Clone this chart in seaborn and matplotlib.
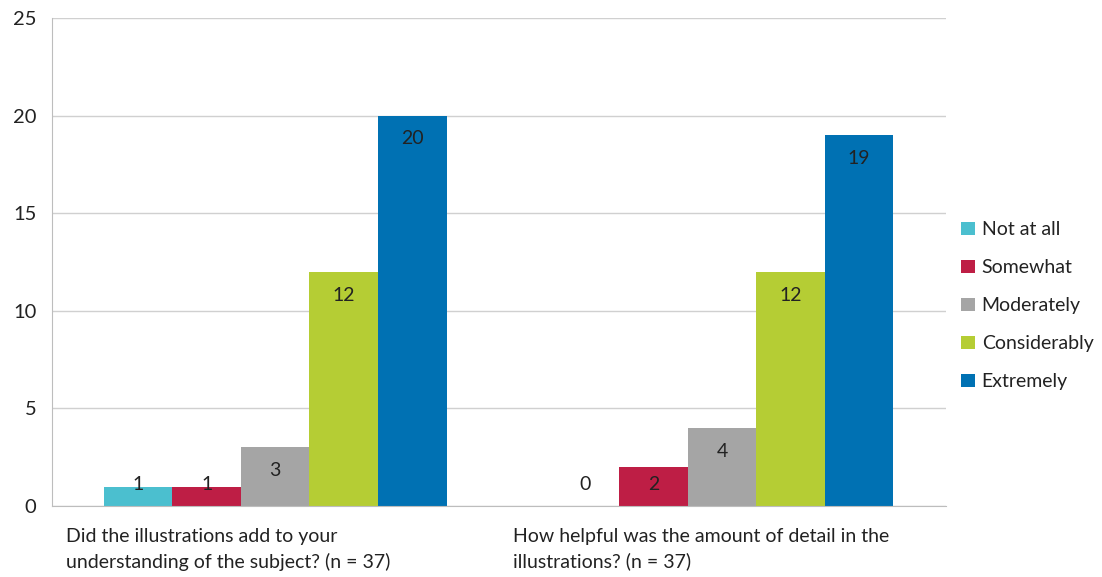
#!/usr/bin/env python3

import pandas as pd
import seaborn as sns
import matplotlib.pyplot as plt

questions = [
    "Did the illustrations add to your\nunderstanding of the subject? (n = 37)",
    "How helpful was the amount of detail in the\nillustrations? (n = 37)",
]
levels = ["Not at all", "Somewhat", "Moderately", "Considerably", "Extremely"]
counts_q1 = [1, 1, 3, 12, 20]
counts_q2 = [0, 2, 4, 12, 19]
colors = ["#4BBFCF", "#BE1E45", "#A5A5A5", "#B5CD34", "#0071B3"]

sns.set_style("white")
plt.rcParams["font.family"] = ["Lato", "DejaVu Sans"]

rows = []
for q, vals in zip(questions, [counts_q1, counts_q2]):
    for lvl, v in zip(levels, vals):
        rows.append({"question": q, "level": lvl, "count": v})
df = pd.DataFrame(rows)

fig = plt.figure(figsize=(11.02, 5.77), dpi=100)
ax = fig.add_axes([0.047, 0.123, 0.811, 0.846])

sns.barplot(
    df, x="question", y="count", hue="level", hue_order=levels,
    palette=colors, saturation=1, width=0.767, linewidth=0, ax=ax, legend=True,
)

ax.set_ylim(0, 25)
ax.set_xlim(-0.5, 1.5)
ax.set_yticks([0, 5, 10, 15, 20, 25])
ax.yaxis.grid(True, color="#D0D0D0", linewidth=1)
ax.set_axisbelow(True)
for side in ["top", "right"]:
    ax.spines[side].set_visible(False)
for side in ["left", "bottom"]:
    ax.spines[side].set_color("#BDBDBD")
ax.tick_params(axis="y", length=5, color="#BDBDBD", labelsize=14.5, pad=6, labelcolor="#222222")
ax.set_xticks([0, 1])
ax.set_xticklabels([])
ax.tick_params(axis="x", which="major", length=0)
ax.set_xticks([-0.5, 0.5, 1.5], minor=True)
ax.tick_params(axis="x", which="minor", length=6, color="#BDBDBD")
ax.set_xlabel("")
ax.set_ylabel("")

# category labels, left aligned under each group
for i, q in enumerate(questions):
    ax.text(i - 0.5 + 0.032, -1.1, q, ha="left", va="top", fontsize=14,
            linespacing=1.55, color="#222222")

# value labels inside bar tops
for container in ax.containers:
    for bar in container:
        h = bar.get_height()
        y = max(h - 1.2, 1.12)
        ax.text(bar.get_x() + bar.get_width() / 2, y, "{:d}".format(int(h)),
                ha="center", va="center", fontsize=14, color="#222222")

leg = ax.legend(
    loc="center left", bbox_to_anchor=(0.998, 0.41), frameon=False,
    fontsize=14, handlelength=0.7, handleheight=0.7, handletextpad=0.35,
    labelspacing=1.08,
)
for t in leg.get_texts():
    t.set_color("#222222")

fig.savefig("out.png", dpi=100)
